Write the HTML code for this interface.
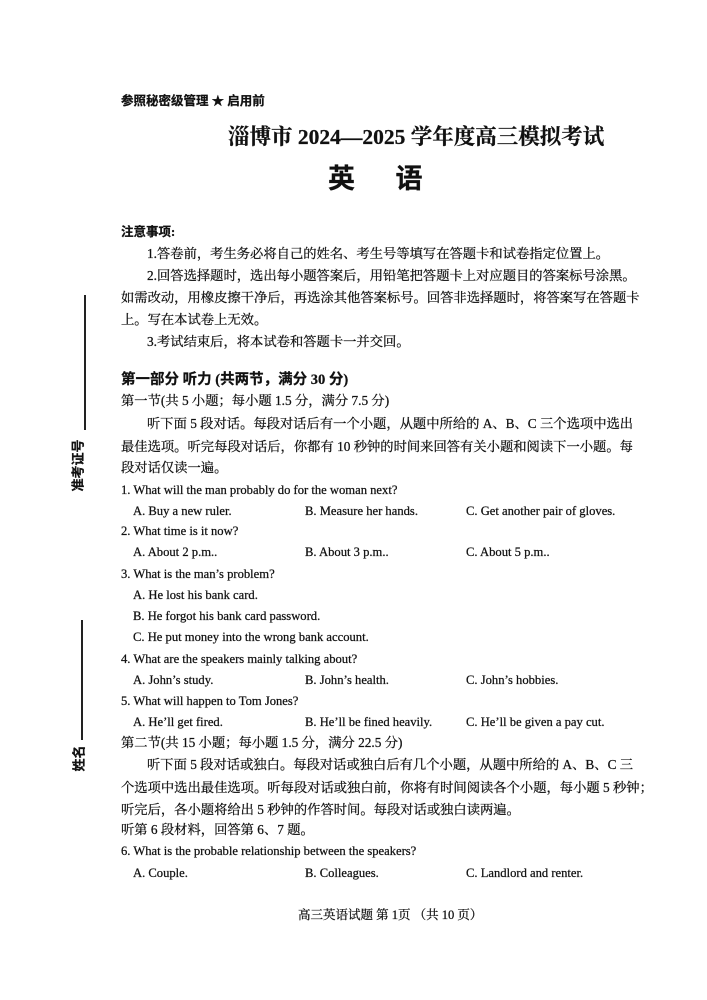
<!DOCTYPE html>
<html><head><meta charset="utf-8">
<style>
body{margin:0;background:#fff;}
#p{position:relative;width:707px;height:1000px;overflow:hidden;background:#fff;color:#111;font-family:"Liberation Serif","Noto Serif CJK SC",serif;-webkit-text-stroke:0.25px #111;}
.l{position:absolute;left:121px;white-space:nowrap;font-size:13.3px;line-height:18px;height:18px;}
.c{font-family:"Liberation Serif","Noto Sans CJK SC",sans-serif;}
.e{font-size:12.6px;}
.b{font-weight:bold;}
.vl{position:absolute;width:1.5px;background:#222;}
.rot{position:absolute;transform:rotate(-90deg);transform-origin:center;font-weight:bold;font-size:13px;font-family:"Noto Sans CJK SC",sans-serif;white-space:nowrap;}
</style></head><body><div id="p">
<div class="l c b" style="top:92px;font-size:12.5px">参照秘密级管理 ★ 启用前</div>
<div class="l b" style="top:124px;left:228px;font-size:21.5px;line-height:26px;height:26px">淄博市 2024—2025 学年度高三模拟考试</div>
<div class="l c b" style="top:162px;left:328px;font-size:27px;line-height:34px;height:34px;letter-spacing:0">英&nbsp;&nbsp;&nbsp;&nbsp;&nbsp;&nbsp;语</div>
<div class="l c b" style="top:223px;font-size:12.5px">注意事项:</div>
<div class="l" style="top:245px;left:147px">1.答卷前，考生务必将自己的姓名、考生号等填写在答题卡和试卷指定位置上。</div>
<div class="l" style="top:267px;left:147px">2.回答选择题时，选出每小题答案后，用铅笔把答题卡上对应题目的答案标号涂黑。</div>
<div class="l" style="top:289px">如需改动，用橡皮擦干净后，再选涂其他答案标号。回答非选择题时，将答案写在答题卡</div>
<div class="l" style="top:311px">上。写在本试卷上无效。</div>
<div class="l" style="top:333px;left:147px">3.考试结束后，将本试卷和答题卡一并交回。</div>
<div class="l c b" style="top:371px;font-size:14.5px">第一部分 听力 (共两节，满分 30 分)</div>
<div class="l" style="top:392px">第一节(共 5 小题；每小题 1.5 分，满分 7.5 分)</div>
<div class="l" style="top:415px;left:147px">听下面 5 段对话。每段对话后有一个小题，从题中所给的 A、B、C 三个选项中选出</div>
<div class="l" style="top:438px">最佳选项。听完每段对话后，你都有 10 秒钟的时间来回答有关小题和阅读下一小题。每</div>
<div class="l" style="top:459px">段对话仅读一遍。</div>
<div class="l e" style="top:481px">1. What will the man probably do for the woman next?</div>
<div class="l e" style="top:502px;left:133px">A. Buy a new ruler.</div>
<div class="l e" style="top:502px;left:305px">B. Measure her hands.</div>
<div class="l e" style="top:502px;left:466px">C. Get another pair of gloves.</div>
<div class="l e" style="top:522px">2. What time is it now?</div>
<div class="l e" style="top:543px;left:133px">A. About 2 p.m..</div>
<div class="l e" style="top:543px;left:305px">B. About 3 p.m..</div>
<div class="l e" style="top:543px;left:466px">C. About 5 p.m..</div>
<div class="l e" style="top:565px">3. What is the man’s problem?</div>
<div class="l e" style="top:586px;left:133px">A. He lost his bank card.</div>
<div class="l e" style="top:607px;left:133px">B. He forgot his bank card password.</div>
<div class="l e" style="top:628px;left:133px">C. He put money into the wrong bank account.</div>
<div class="l e" style="top:650px">4. What are the speakers mainly talking about?</div>
<div class="l e" style="top:671px;left:133px">A. John’s study.</div>
<div class="l e" style="top:671px;left:305px">B. John’s health.</div>
<div class="l e" style="top:671px;left:466px">C. John’s hobbies.</div>
<div class="l e" style="top:692px">5. What will happen to Tom Jones?</div>
<div class="l e" style="top:713px;left:133px">A. He’ll get fired.</div>
<div class="l e" style="top:713px;left:305px">B. He’ll be fined heavily.</div>
<div class="l e" style="top:713px;left:466px">C. He’ll be given a pay cut.</div>
<div class="l" style="top:734px">第二节(共 15 小题；每小题 1.5 分，满分 22.5 分)</div>
<div class="l" style="top:756px;left:147px">听下面 5 段对话或独白。每段对话或独白后有几个小题，从题中所给的 A、B、C 三</div>
<div class="l" style="top:779px">个选项中选出最佳选项。听每段对话或独白前，你将有时间阅读各个小题，每小题 5 秒钟；</div>
<div class="l" style="top:801px">听完后，各小题将给出 5 秒钟的作答时间。每段对话或独白读两遍。</div>
<div class="l" style="top:821px">听第 6 段材料，回答第 6、7 题。</div>
<div class="l e" style="top:842px">6. What is the probable relationship between the speakers?</div>
<div class="l e" style="top:864px;left:133px">A. Couple.</div>
<div class="l e" style="top:864px;left:305px">B. Colleagues.</div>
<div class="l e" style="top:864px;left:466px">C. Landlord and renter.</div>
<div class="l" style="top:906px;left:298px;font-size:12.5px">高三英语试题 第 1页 （共 10 页）</div>
<div class="vl" style="left:84px;top:295px;height:135px"></div>
<div class="rot" style="left:47px;top:456px;width:60px;text-align:center">准考证号</div>
<div class="vl" style="left:81px;top:620px;height:120px"></div>
<div class="rot" style="left:60px;top:749px;width:36px;text-align:center">姓名</div>
</div></body></html>
